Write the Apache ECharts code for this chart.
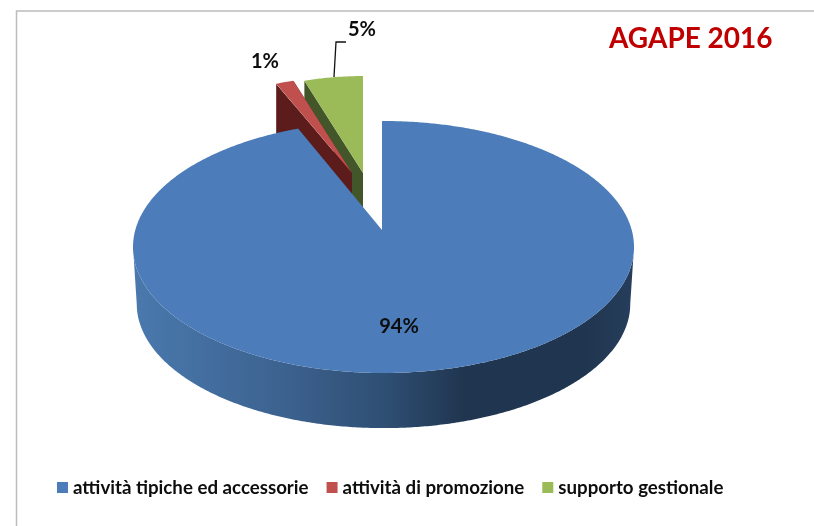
<!DOCTYPE html>
<html><head><meta charset="utf-8">
<style>html,body{margin:0;padding:0;background:#fff}#c{width:814px;height:526px}</style>
<script src="https://cdn.jsdelivr.net/npm/echarts@6/dist/echarts.min.js"></script>
</head><body><div id="c"></div>
<script>
const categories = ['attività tipiche ed accessorie', 'attività di promozione', 'supporto gestionale'];
const values = [94.1, 1.4, 4.5];
const labels = ['94%', '1%', '5%'];
const topColors = ['#4c7dba', '#c0504d', '#9bbb59'];
const wallColors = ['#2f4f74', '#5c1c1c', '#42562a'];

// one projected wedge per slice: apex, outer size, depth
const layouts = [
  {ax: 382, ay: 230, rx: 250.5, ry: 126, sx: 232, dy: 17, cx: 1.5, depth: 56, z: 3},
  {ax: 352, ay: 173, rx: 212, ry: 113, sx: 212, dy: 16, cx: 1.5, depth: 52, z: 2},
  {ax: 363, ay: 173, rx: 212, ry: 113, sx: 212, dy: 16, cx: 1.5, depth: 52, z: 1}
];
const labelPos = [[399, 327], [265, 62], [362, 30]];
const total = values.reduce((a, b) => a + b, 0);

// clockwise from 12 o'clock, the first slice starts at the top
function sliceAngles(i) {
  let s = 0;
  for (let k = 0; k < i; k++) s += values[k];
  return [s / total * 2 * Math.PI, (s + values[i]) / total * 2 * Math.PI];
}
// the point of a slice's rim seen along angle th from its apex
function rim(L, th, grow, sink) {
  const ex = L.ax + L.cx, ey = L.ay + L.dy;
  const dx = Math.sin(th) * L.sx, dy = -Math.cos(th) * (L.ry - L.dy);
  const px = L.ax - ex, py = L.ay - ey;
  const rx = L.rx * grow, ry = L.ry * grow;
  const A = dx * dx / (rx * rx) + dy * dy / (ry * ry);
  const B = 2 * (px * dx / (rx * rx) + py * dy / (ry * ry));
  const C = px * px / (rx * rx) + py * py / (ry * ry) - 1;
  const t = (-B + Math.sqrt(B * B - 4 * A * C)) / (2 * A);
  return [L.ax + t * dx, L.ay + t * dy + sink];
}
function arc(L, a0, a1, grow, sink) {
  const n = Math.max(8, Math.ceil((a1 - a0) * 120));
  const out = [];
  for (let k = 0; k <= n; k++) out.push(rim(L, a0 + (a1 - a0) * k / n, grow, sink));
  return out;
}
// the front half of an arc: from its rightmost to its leftmost sample
function frontHalf(pts) {
  let iMax = 0, iMin = 0;
  pts.forEach((p, k) => {
    if (p[0] > pts[iMax][0]) iMax = k;
    if (p[0] < pts[iMin][0]) iMin = k;
  });
  return pts.slice(iMax, iMin + 1);
}
function renderSlice(i) {
  return function () {
    const L = layouts[i];
    const [a0, a1] = sliceAngles(i);
    const topArc = arc(L, a0, a1, 1, 0);
    const apex = [L.ax, L.ay];
    const children = [];
    if (i === 0) {
      const front = frontHalf(topArc);
      const low = frontHalf(arc(L, a0, a1, 0.985, L.depth + 1));
      children.push({
        type: 'polygon',
        shape: {points: front.concat(low.slice().reverse())},
        style: {fill: new echarts.graphic.LinearGradient(0, 0, 1, 0, [
          {offset: 0, color: '#4a79ae'},
          {offset: 0.3, color: '#3c628f'},
          {offset: 0.5, color: '#2f4f74'},
          {offset: 0.66, color: '#203650'},
          {offset: 0.9, color: '#20354f'},
          {offset: 1, color: '#263e5c'}
        ])}
      });
    } else {
      [topArc[0], topArc[topArc.length - 1]].forEach(o => {
        children.push({
          type: 'polygon',
          shape: {points: [apex, o, [o[0], o[1] + L.depth], [apex[0], apex[1] + L.depth]]},
          style: {fill: wallColors[i]}
        });
      });
    }
    if (i === 1) {
      // thin white sliver that parts this slice from its neighbour, fading out before the apex
      const o0 = topArc[0];
      const mid = [apex[0] + (o0[0] - apex[0]) * 0.25, apex[1] + (o0[1] - apex[1]) * 0.25];
      children.push({
        type: 'polyline',
        shape: {points: [[mid[0] + 1.5, mid[1]], [o0[0] + 1.5, o0[1]]]},
        style: {fill: 'none', stroke: '#fff', lineWidth: 2.5}
      });
    }
    children.push({
      type: 'polygon',
      shape: {points: [apex].concat(topArc)},
      style: {fill: topColors[i]}
    });
    return {type: 'group', children};
  };
}
const series = categories.map((name, i) => ({
  name, type: 'custom', coordinateSystem: 'none', silent: true, animation: false,
  z: layouts[i].z, itemStyle: {color: topColors[i]},
  data: [values[i]], renderItem: renderSlice(i), clip: false
}));
const labelStyle = {fontFamily: 'Lato', fontWeight: 'bold', fontSize: 20, fill: '#0d0d0d'};
const chart = echarts.init(document.getElementById('c'), null, {renderer: 'canvas'});
chart.setOption({
  animation: false,
  backgroundColor: '#fff',
  title: {text: 'AGAPE 2016', left: 604, top: 20,
    textStyle: {fontFamily: 'Lato', fontWeight: 'bold', fontSize: 28, color: '#c00000'}},
  legend: {left: 52, top: 473, icon: 'rect', itemWidth: 11, itemHeight: 11, itemGap: 18,
    data: categories, selectedMode: false,
    textStyle: {fontFamily: 'Lato', fontWeight: 'bold', fontSize: 18.7, color: '#0d0d0d'}},
  graphic: [
    {type: 'polyline', z: 10, shape: {points: [[16.5, 526], [16.5, 11], [814, 11]]}, style: {fill: 'none', stroke: '#bcbcbc', lineWidth: 1.5}},
    {type: 'polyline', z: 10, shape: {points: [[334, 77], [336, 42], [346, 42]]}, style: {fill: 'none', stroke: '#111', lineWidth: 1.3}},
    ...labels.map((t, i) => ({type: 'text', z: 10, x: labelPos[i][0], y: labelPos[i][1],
      style: Object.assign({text: t, align: 'center', verticalAlign: 'middle'}, labelStyle)}))
  ],
  series
});
</script></body></html>
